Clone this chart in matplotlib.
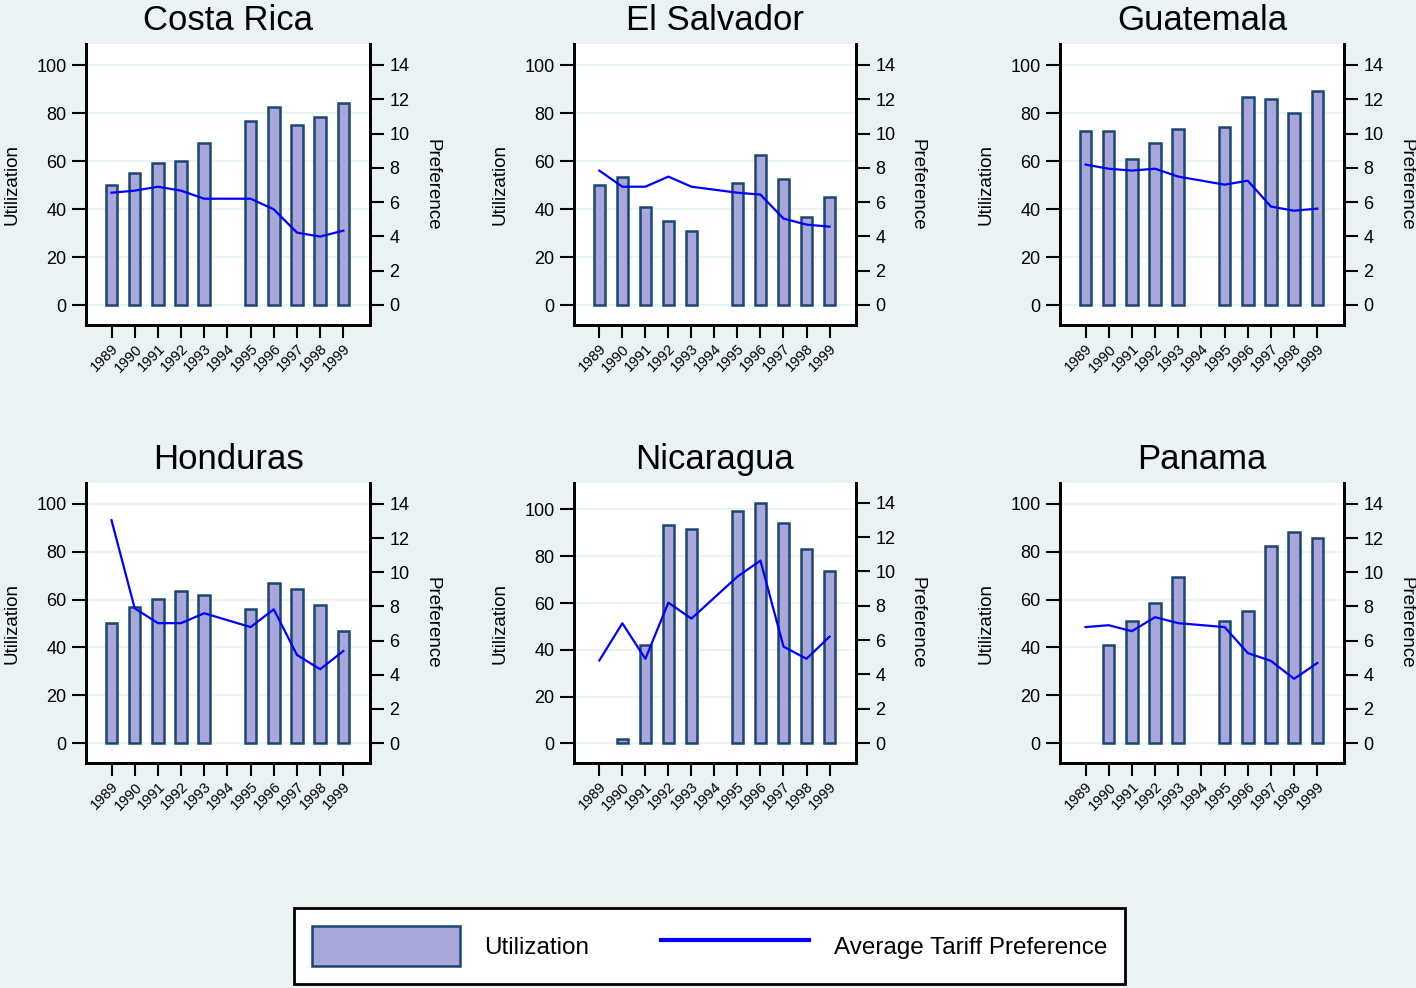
import numpy as np
import matplotlib
matplotlib.use("Agg")
import matplotlib.pyplot as plt
from matplotlib import font_manager
from matplotlib.patches import Patch
from matplotlib.lines import Line2D

plt.rcParams['font.family'] = ['Liberation Sans', 'DejaVu Sans']

nan = np.nan
years = [1989, 1990, 1991, 1992, 1993, 1994, 1995, 1996, 1997, 1998, 1999]

util_costa_rica = [50, 55, 59, 60, 67.5, nan, 76.5, 82.6, 75, 78.3, 84.3]
pref_costa_rica = [6.55, 6.67, 6.9, 6.67, 6.2, nan, 6.2, 5.58, 4.22, 3.99, 4.34]

util_el_salvador = [50, 53.5, 41, 35.1, 31, nan, 51, 62.6, 52.6, 36.8, 45]
pref_el_salvador = [7.84, 6.9, 6.9, 7.49, 6.9, nan, 6.55, 6.44, 5.04, 4.69, 4.57]

util_guatemala = [72.6, 72.6, 61, 67.6, 73.3, nan, 74.2, 86.7, 85.8, 80, 89.2]
pref_guatemala = [8.19, 7.95, 7.84, 7.95, 7.49, nan, 7.02, 7.25, 5.74, 5.5, 5.62]

util_honduras = [50.1, 56.8, 60.1, 63.4, 61.8, nan, 56, 66.8, 64.3, 57.6, 46.8]
pref_honduras = [13.05, 7.89, 7.02, 7.02, 7.6, nan, 6.79, 7.83, 5.16, 4.32, 5.39]

util_nicaragua = [nan, 2, 42.2, 93.4, 91.6, nan, 99.4, 102.8, 94.3, 83, 73.8]
pref_nicaragua = [4.81, 6.98, 4.91, 8.18, 7.25, nan, 9.7, 10.63, 5.62, 4.91, 6.2]

util_panama = [nan, 41, 51, 58.4, 69.3, nan, 51, 55.1, 82.5, 88.4, 85.9]
pref_panama = [6.79, 6.9, 6.55, 7.37, 7.02, nan, 6.79, 5.27, 4.81, 3.76, 4.69]

countries = ["Costa Rica", "El Salvador", "Guatemala", "Honduras", "Nicaragua", "Panama"]
utilization = [util_costa_rica, util_el_salvador, util_guatemala,
               util_honduras, util_nicaragua, util_panama]
preference = [pref_costa_rica, pref_el_salvador, pref_guatemala,
              pref_honduras, pref_nicaragua, pref_panama]

BG = "#EAF2F3"
BAR = "#A9A6DC"
EDGE = "#1A476F"
LINE = "#0000FF"

# year labels in the reference are squeezed; use a narrow face if present
_names = {f.name for f in font_manager.fontManager.ttflist}
TICK_FONT = "Liberation Sans Narrow" if "Liberation Sans Narrow" in _names else "Liberation Sans"
TICK_SIZE = 12 if TICK_FONT.endswith("Narrow") else 10.5

W, H = 1416, 988
fig = plt.figure(figsize=(W / 100, H / 100), dpi=100, facecolor=BG)

# plot-region boxes in pixels: left, top, right, bottom
boxes = [
    (86, 44, 370, 325), (574, 44, 856, 325), (1060, 44, 1344, 325),
    (86, 483, 370, 763), (574, 483, 856, 763), (1060, 483, 1344, 763),
]

for name, util, pref, (x0, y0, x1, y1) in zip(countries, utilization, preference, boxes):
    ax = fig.add_axes([x0 / W, (H - y1) / H, (x1 - x0) / W, (y1 - y0) / H])
    ax.set_facecolor("white")
    ax2 = ax.twinx()

    yrs = np.array(years, dtype=float)
    u = np.array(util, dtype=float)
    p = np.array(pref, dtype=float)

    ax.bar(yrs, u, width=0.5, color=BAR, edgecolor=EDGE, linewidth=1.8, zorder=3)
    ok = ~np.isnan(p)
    ax2.plot(yrs[ok], p[ok], color=LINE, linewidth=1.6)

    if name == "Nicaragua":
        ax.set_ylim(-8.4, 111.3)
        ax2.set_ylim(-1.16, 15.15)
    else:
        ax.set_ylim(-8.33, 108.75)
        ax2.set_ylim(-1.167, 15.225)
    ax.set_xlim(1987.9, 2000.15)

    ax.set_yticks([0, 20, 40, 60, 80, 100])
    ax2.set_yticks([0, 2, 4, 6, 8, 10, 12, 14])
    ax.set_xticks(years)
    ax.set_xticklabels([str(y) for y in years], rotation=45, ha="right",
                       rotation_mode="anchor", fontsize=TICK_SIZE,
                       family=[TICK_FONT, "DejaVu Sans"])
    ax.grid(axis="y", color=BG, linewidth=1.5, zorder=0)
    ax.set_axisbelow(True)

    for a in (ax, ax2):
        a.spines["top"].set_visible(False)
        for s in ("left", "right", "bottom"):
            a.spines[s].set_linewidth(2)
            a.spines[s].set_color("black")
    ax.tick_params(axis="y", direction="out", length=10, width=1.5, pad=4, labelsize=13)
    ax2.tick_params(axis="y", direction="out", length=10, width=1.5, pad=4, labelsize=13)
    ax.tick_params(axis="x", direction="out", length=9, width=1.5, pad=3)

    ax.set_ylabel("Utilization", fontsize=13.5, va="center")
    ax.yaxis.set_label_coords(-0.262, 0.5)
    ax2.set_ylabel("Preference", fontsize=13.5, rotation=270, va="center")
    ax2.yaxis.set_label_coords(1.218, 0.5)
    ax.set_title(name, fontsize=25, pad=10)

handles = [Patch(facecolor=BAR, edgecolor=EDGE, linewidth=1.8),
           Line2D([], [], color=LINE, linewidth=3)]
leg = fig.legend(handles, ["Utilization", "Average Tariff Preference"],
                 loc="center", bbox_to_anchor=(709.5 / W, 1 - 946 / H),
                 ncol=2, fontsize=17.5, frameon=True, fancybox=False,
                 handlelength=6.1, handleheight=2.2, handletextpad=1.0,
                 columnspacing=2.95, borderpad=0.72)
leg.get_frame().set_edgecolor("black")
leg.get_frame().set_linewidth(2)
leg.get_frame().set_facecolor("white")
leg.get_frame().set_alpha(1)

fig.savefig("out.png", dpi=100, facecolor=BG)
